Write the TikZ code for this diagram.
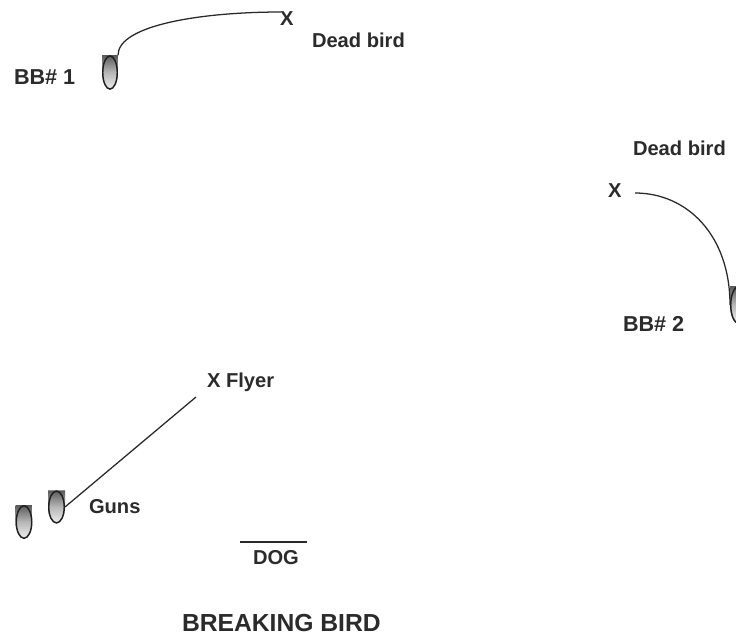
\documentclass[tikz,border=0pt]{standalone}
\usepackage{fontspec}
\setmainfont{Liberation Sans}
\usetikzlibrary{calc}
\definecolor{ink}{HTML}{2B2B2B}
\tikzset{
  lbl/.style={inner sep=0pt, outer sep=0pt, anchor=base west, text=ink,
    font=\bfseries\fontsize{15.1pt}{17pt}\selectfont},
  bblbl/.style={lbl, font=\bfseries\fontsize{16.2pt}{18pt}\selectfont},
  wire/.style={draw=ink!95!black, line width=0.95pt},
  gun/.style={inner sep=0pt, outer sep=0pt,
    path picture={
      \shade[top color=black!65, bottom color=black!6, middle color=black!28]
        let \p1=(path picture bounding box.north east),
            \p2=(path picture bounding box.center),
            \n1={\x1-\x2}, \n2={\y1-\y2} in
        (path picture bounding box.north west) -- (\x1,\y1) -- (\x1,\y2)
        arc[start angle=0, end angle=-180, x radius=\n1, y radius=\n2] -- cycle;
      \draw[line width=1.1pt, black!88]
        let \p1=(path picture bounding box.north east),
            \p2=(path picture bounding box.center),
            \n1={\x1-\x2-0.55pt}, \n2={\y1-\y2-0.55pt} in
        (\p2) ellipse[x radius=\n1, y radius=\n2];
    }},
}
\begin{document}
\begin{tikzpicture}[x=0.75pt, y=-0.75pt]
  \fill[white] (0,0) rectangle (736,637);
  \useasboundingbox (0,0) rectangle (736,637);

  % guns
  \node[gun, minimum width=12pt, minimum height=26pt] (g1) at (110,72.5) {};
  \node[gun, minimum width=12.75pt, minimum height=28.5pt] (g2) at (738.5,305) {};
  \node[gun, minimum width=12.75pt, minimum height=25.5pt] (g3) at (24,522) {};
  \node[gun, minimum width=12.75pt, minimum height=25pt] (g4) at (56.5,507) {};

  % labels
  \node[bblbl] (bb1) at (14,84) {BB\# 1};
  \node[lbl] (x1) at (280,25) {X};
  \node[lbl] (db1) at (312,47) {Dead bird};
  \node[lbl] (db2) at (633,155) {Dead bird};
  \node[lbl] (x2) at (608,197) {X};
  \node[bblbl] (bb2) at (623,331) {BB\# 2};
  \node[lbl] (xfly) at (207,387) {X Flyer};
  \node[lbl] (guns) at (89,513) {Guns};
  \node[lbl] (dog) at (253,564) {DOG};
  \node[lbl, font=\bfseries\fontsize{18.5pt}{21pt}\selectfont] (title) at (182,631) {BREAKING BIRD};

  % connector end points
  \coordinate (e1) at (281,12);
  \coordinate (s2) at (635,193);
  \coordinate (fly) at (196,397);
  \coordinate (dogL) at (240,542);
  \coordinate (dogR) at (307,542);

  % connectors
  \draw[wire] (g1.north east) .. controls +(0,-30) and +(-80,0) .. (e1);
  \draw[wire] (s2) .. controls +(52,0) and +(0,-70) .. (g2.west);
  \draw[wire] (g4.east) -- (fly);
  \draw[wire] (dogL) -- (dogR);
\end{tikzpicture}
\end{document}
